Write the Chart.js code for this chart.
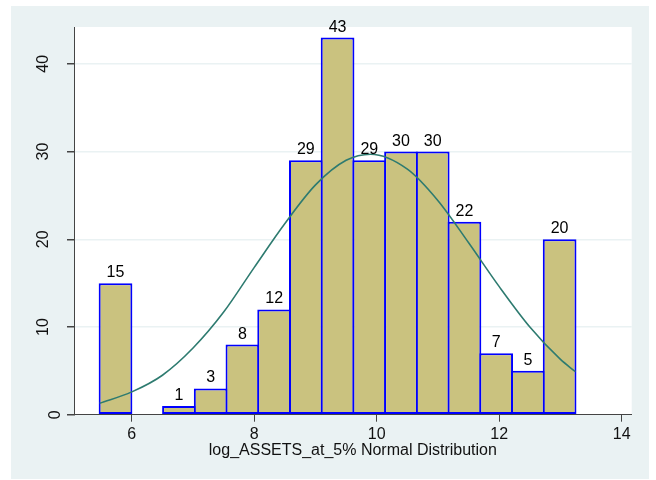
<!DOCTYPE html>
<html>
<head>
<meta charset="utf-8">
<script src="https://cdn.jsdelivr.net/npm/chart.js@4/dist/chart.umd.min.js"></script>
<style>
html,body{margin:0;padding:0;background:#ffffff;}
#c{display:block;}
</style>
</head>
<body>
<canvas id="c" width="656" height="480"></canvas>
<script>
// ---- data ----
const binCenters = [5.734, 6.252, 6.770, 7.288, 7.806, 8.324, 8.842, 9.360, 9.878, 10.396, 10.914, 11.432, 11.950, 12.468, 12.986];
const counts     = [15, null, 1, 3, 8, 12, 29, 43, 29, 30, 30, 22, 7, 5, 20];
const curveX = [5.475, 6.0, 6.5, 7.0, 7.5, 8.0, 8.5, 9.0, 9.5, 9.9, 10.5, 11.0, 11.5, 12.0, 12.5, 13.0, 13.245];
const curveY = [1.3, 2.6, 4.5, 7.6, 11.7, 16.8, 21.8, 26.2, 29.0, 29.7, 28.0, 24.4, 19.6, 14.6, 10.0, 6.3, 4.9];
const xTicks = [6, 8, 10, 12, 14];
const yTicks = [0, 10, 20, 30, 40];
const xTitle = 'log_ASSETS_at_5% Normal Distribution';

const BG = '#EAF2F3';
const AXIS = '#444444';
const FONT = "'Liberation Sans', Arial, sans-serif";

const backgroundPlugin = {
  id: 'stataBg',
  beforeDraw(chart) {
    const ctx = chart.ctx, a = chart.chartArea;
    ctx.save();
    ctx.fillStyle = '#ffffff';
    ctx.fillRect(0, 0, chart.width, chart.height);
    ctx.fillStyle = BG;
    ctx.fillRect(11, 6, 638, 473);
    ctx.fillStyle = '#ffffff';
    ctx.fillRect(a.left, a.top, a.right - a.left, a.bottom - a.top);
    ctx.restore();
  }
};

const barLabelPlugin = {
  id: 'barLabels',
  afterDatasetsDraw(chart) {
    const meta = chart.getDatasetMeta(0);
    const ctx = chart.ctx;
    ctx.save();
    ctx.font = '16px ' + FONT;
    ctx.fillStyle = '#000000';
    ctx.textAlign = 'center';
    ctx.textBaseline = 'alphabetic';
    meta.data.forEach((el, i) => {
      if (counts[i] === null || counts[i] === undefined) return;
      ctx.fillText(String(counts[i]), el.x, el.y - 6);
    });
    ctx.restore();
  }
};

new Chart(document.getElementById('c'), {
  type: 'bar',
  data: {
    datasets: [
      {
        type: 'bar',
        label: 'Frequency',
        data: binCenters.map((x, i) => ({ x: x, y: counts[i] })),
        backgroundColor: '#CAC27F',
        borderColor: '#0000FF',
        borderWidth: 2,
        borderSkipped: false,
        inflateAmount: 0,
        barPercentage: 1.063,
        categoryPercentage: 1.0,
        order: 1
      },
      {
        type: 'line',
        label: 'Normal',
        data: curveX.map((x, i) => ({ x: x, y: curveY[i] })),
        borderColor: '#2E7B70',
        borderWidth: 1.6,
        pointRadius: 0,
        fill: false,
        cubicInterpolationMode: 'monotone',
        order: 0
      }
    ]
  },
  options: {
    responsive: false,
    devicePixelRatio: 1,
    animation: false,
    layout: { padding: { left: 0, top: 23.3, right: 24.3, bottom: 20.3 } },
    plugins: {
      legend: { display: false },
      tooltip: { enabled: false }
    },
    scales: {
      x: {
        type: 'linear',
        min: 5.056,
        max: 14.163,
        offset: false,
        afterBuildTicks: s => { s.ticks = xTicks.map(v => ({ value: v })); },
        afterFit: s => { s.height = 45; },
        grid: { display: true, drawOnChartArea: false, offset: false, tickLength: 7, tickColor: AXIS, color: AXIS },
        border: { display: true, color: AXIS, width: 1 },
        ticks: { padding: 3, color: '#111111', maxRotation: 0, autoSkip: false, font: { family: FONT, size: 16 } },
        title: { display: true, text: xTitle, color: '#111111', font: { family: FONT, size: 16 }, padding: { top: 0, bottom: 0 } }
      },
      y: {
        type: 'linear',
        min: 0,
        max: 44.2,
        afterBuildTicks: s => { s.ticks = yTicks.map(v => ({ value: v })); },
        afterFit: s => { s.width = 74; },
        grid: {
          display: true,
          drawOnChartArea: true,
          color: ctx => (ctx.tick && ctx.tick.value === 0) ? 'rgba(0,0,0,0)' : BG,
          lineWidth: 1.5,
          tickColor: AXIS,
          tickLength: 7
        },
        border: { display: true, color: AXIS, width: 1 },
        ticks: {
          minRotation: 90,
          maxRotation: 90,
          crossAlign: 'center',
          padding: 15,
          color: '#111111',
          font: { family: FONT, size: 16, lineHeight: 1.5 },
          callback: v => (v === 0 ? ['', '0'] : String(v))
        }
      }
    }
  },
  plugins: [backgroundPlugin, barLabelPlugin]
});
</script>
</body>
</html>
